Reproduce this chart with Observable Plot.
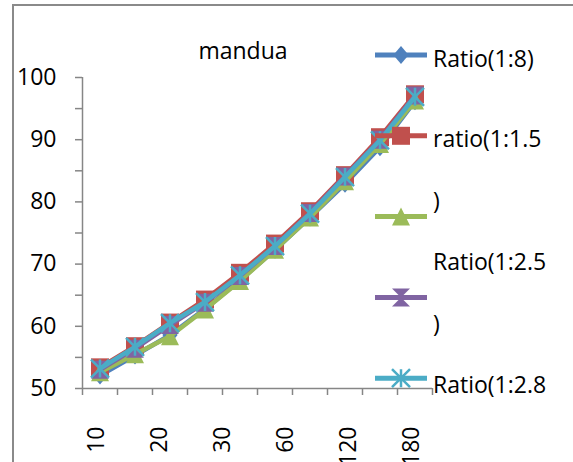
<!DOCTYPE html>
<html>
<head>
<meta charset="utf-8">
<script src="https://cdn.jsdelivr.net/npm/d3@7"></script>
<script src="https://cdn.jsdelivr.net/npm/@observablehq/plot@0.6"></script>
<style>
  html, body { margin: 0; padding: 0; background: #fff; }
  #chart { position: relative; width: 573px; height: 462px; overflow: hidden; }
  #chart svg { position: absolute; left: 0; top: 0; }
</style>
</head>
<body>
<div id="chart"></div>
<script>
// Category labels along the x axis (spread evenly over the ten points)
const pointLabels = ["10", "20", "30", "60", "120", "180"];

// Series values, one per point
const ratio1_8   = [52.1, 55.3, 58.6, 62.8, 67.4, 72.3, 77.5, 82.9, 88.8, 96.2];
const ratio1_1_5 = [53.4, 56.8, 60.6, 64.3, 68.6, 73.3, 78.5, 84.3, 90.4, 97.3];
const ratio1_2_5 = [52.6, 55.5, 58.4, 62.7, 67.3, 72.3, 77.5, 83.3, 89.3, 96.3];
const series4    = [53.0, 56.4, 60.2, 63.8, 68.1, 72.9, 78.2, 84.1, 90.0, 97.1];
const ratio1_2_8 = [53.2, 56.7, 60.5, 63.9, 68.2, 72.9, 78.1, 84.0, 89.9, 96.9];

// Axis ticks and labels
const yTicks = [50, 55, 60, 65, 70, 75, 80, 85, 90, 95, 100];
const yLabels = [50, 60, 70, 80, 90, 100];

// Legend text, line by line as it wraps
const legendLines = ["Ratio(1:8)", "ratio(1:1.5", ")", "Ratio(1:2.5", ")", "Ratio(1:2.8"];

const title = "mandua";

// Marker shapes
const sym = {
  diamond: { draw(c, s) { const r = Math.sqrt(s / Math.PI), w = r * 0.85;
    c.moveTo(0, -r); c.lineTo(w, 0); c.lineTo(0, r); c.lineTo(-w, 0); c.closePath(); } },
  square: { draw(c, s) { const r = Math.sqrt(s / Math.PI);
    c.rect(-r, -r, 2 * r, 2 * r); } },
  triangle: { draw(c, s) { const r = Math.sqrt(s / Math.PI);
    c.moveTo(0, -r); c.lineTo(r, r); c.lineTo(-r, r); c.closePath(); } },
  hourglass: { draw(c, s) { const r = Math.sqrt(s / Math.PI);
    c.moveTo(-r, -r); c.lineTo(r, -r); c.lineTo(-r, r); c.lineTo(r, r); c.closePath(); } },
  asterisk: { draw(c, s) { const r = Math.sqrt(s / Math.PI);
    c.moveTo(-r, -r); c.lineTo(r, r); c.moveTo(r, -r); c.lineTo(-r, r);
    c.moveTo(0, -r); c.lineTo(0, r); } }
};

const series = [
  { values: ratio1_8,   color: "#4F81BD", symbol: sym.diamond,   filled: true },
  { values: ratio1_1_5, color: "#C0504D", symbol: sym.square,    filled: true },
  { values: ratio1_2_5, color: "#9BBB59", symbol: sym.triangle,  filled: true },
  { values: series4,    color: "#8064A2", symbol: sym.hourglass, filled: true },
  { values: ratio1_2_8, color: "#4BACC6", symbol: sym.asterisk,  filled: false }
];

const W = 573, H = 462;
const axisGray = "#868686";
const font = "'Open Sans', 'DejaVu Sans', sans-serif";
const markerR = 9;
const n = ratio1_8.length;

const seriesMarks = series.flatMap(s => {
  const rows = s.values.map((v, i) => ({ i, v }));
  const pos = { x: d => d.i + 0.5, y: d => d.v };
  return [
    Plot.line(rows, { ...pos, stroke: s.color, strokeWidth: 4.5, strokeLinejoin: "round" }),
    Plot.dot(rows, {
      ...pos, r: markerR, symbol: s.symbol,
      fill: s.filled ? s.color : "none",
      stroke: s.filled ? "none" : s.color,
      strokeWidth: s.filled ? 0 : 2.5
    })
  ];
});

const plot = Plot.plot({
  width: W,
  height: H,
  marginLeft: 82,
  marginRight: 141,
  marginTop: 77,
  marginBottom: 74,
  x: { domain: [0, n], axis: null, label: null },
  y: { domain: [50, 100], axis: null, label: null },
  style: { fontFamily: font, fontSize: "23px", color: "#000", background: "transparent", overflow: "visible" },
  marks: [
    Plot.axisY(yTicks, { tickSize: 7, tickFormat: () => "", stroke: axisGray, strokeWidth: 1.5, label: null }),
    Plot.axisY(yLabels, { tickSize: 0, tickPadding: 26, fill: "#000", label: null }),
    Plot.axisX(d3.range(n + 1), { tickSize: 7, tickFormat: () => "", stroke: axisGray, strokeWidth: 1.5, label: null }),
    Plot.ruleX([0], { stroke: axisGray, strokeWidth: 1.5 }),
    Plot.ruleY([50], { stroke: axisGray, strokeWidth: 1.5 }),
    Plot.text(pointLabels, {
      x: (d, i) => 0.5 + i * (n - 1) / (pointLabels.length - 1),
      text: d => d,
      frameAnchor: "bottom",
      rotate: -90,
      textAnchor: "end",
      dy: 38,
      dx: 4,
      fill: "#000"
    }),
    ...seriesMarks
  ]
});

const chart = document.getElementById("chart");
chart.appendChild(plot);

// Frame, title and legend drawn on top
const over = d3.select(chart).append("svg")
  .attr("width", W).attr("height", H)
  .style("pointer-events", "none")
  .style("font-family", font);

over.append("rect")
  .attr("x", 13).attr("y", 5).attr("width", W + 20).attr("height", H + 20)
  .attr("fill", "none").attr("stroke", "#8a8a8a").attr("stroke-width", 2);

over.append("text")
  .attr("x", 243).attr("y", 59)
  .attr("text-anchor", "middle")
  .attr("font-size", 23)
  .text(title);

const legend = over.append("g");
const lgX0 = 375, lgX1 = 427, lgMid = 401;
const lgTop = 55, lgPitch = 80.8;
series.forEach((s, i) => {
  const y = lgTop + i * lgPitch;
  legend.append("line")
    .attr("x1", lgX0).attr("x2", lgX1).attr("y1", y).attr("y2", y)
    .attr("stroke", s.color).attr("stroke-width", 5);
  legend.append("path")
    .attr("transform", `translate(${lgMid},${y})`)
    .attr("d", d3.symbol(s.symbol, Math.PI * markerR * markerR)())
    .attr("fill", s.filled ? s.color : "none")
    .attr("stroke", s.filled ? "none" : s.color)
    .attr("stroke-width", s.filled ? 0 : 2.5);
});
const textBase0 = 66.7, textBase1 = 147.3, lineGap = 61.4;
legendLines.forEach((t, k) => {
  legend.append("text")
    .attr("x", 433)
    .attr("y", k === 0 ? textBase0 : textBase1 + (k - 1) * lineGap)
    .attr("font-size", 23)
    .text(t);
});
</script>
</body>
</html>
